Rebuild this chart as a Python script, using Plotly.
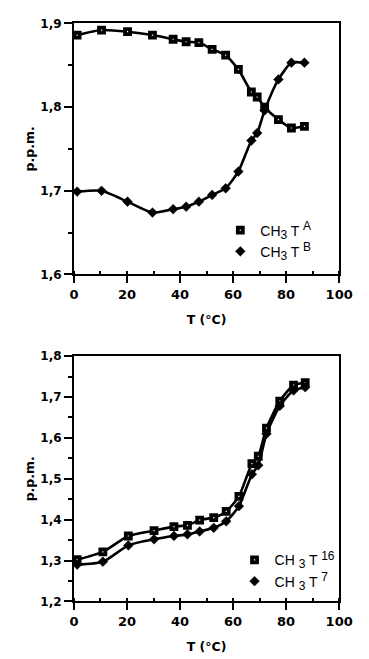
import plotly.graph_objects as go

# ---- data ----
T_top = [1.2, 10.4, 20.2, 29.6, 37.4, 42.3, 47.1, 52.1, 57.2, 62.0, 66.9, 69.1, 71.9, 77.1, 82.0, 86.9]
CH3_TA = [1.886, 1.892, 1.890, 1.886, 1.881, 1.878, 1.877, 1.869, 1.862, 1.845, 1.818, 1.812, 1.800, 1.785, 1.775, 1.777]
CH3_TB = [1.699, 1.700, 1.687, 1.674, 1.678, 1.681, 1.687, 1.695, 1.703, 1.723, 1.760, 1.769, 1.796, 1.833, 1.853, 1.853]

T_bot = [1.2, 10.9, 20.5, 30.2, 37.7, 42.8, 47.4, 52.7, 57.4, 62.2, 67.1, 69.5, 72.6, 77.6, 82.8, 87.2]
CH3_T16 = [1.302, 1.321, 1.360, 1.373, 1.383, 1.386, 1.399, 1.405, 1.420, 1.457, 1.537, 1.555, 1.624, 1.690, 1.729, 1.735]
CH3_T7 = [1.290, 1.297, 1.337, 1.352, 1.360, 1.364, 1.371, 1.380, 1.396, 1.433, 1.511, 1.533, 1.610, 1.678, 1.716, 1.724]

x_ticks = [0, 20, 40, 60, 80, 100]

W, H = 369, 659
FONT = "DejaVu Sans"
LEG_FONT = "Liberation Sans"

def px_x(p):
    return p / W

def px_y(p):
    return 1 - p / H

def sz(t):
    return '<span style="font-size:12px">' + t + '</span>'

def label(sup, gap=""):
    return "CH" + gap + "<sub>" + sz("3") + "</sub> T <sup>" + sz(sup) + "</sup>"

fig = go.Figure()

sq_marker = dict(symbol="square", size=5, color="white", line=dict(color="black", width=3.8))
di_marker = dict(symbol="diamond", size=7.5, color="black", line=dict(color="black", width=0.5))
line_style = dict(color="black", width=2.6, shape="spline", smoothing=0.6)

series = [
    (T_top, CH3_TA, sq_marker, label("A"), "x", "y", "legend"),
    (T_top, CH3_TB, di_marker, label("B"), "x", "y", "legend"),
    (T_bot, CH3_T16, sq_marker, label("16", " "), "x2", "y2", "legend2"),
    (T_bot, CH3_T7, di_marker, label("7", " "), "x2", "y2", "legend2"),
]

# connecting curves (no legend entry)
for xs, ys, mk, nm, xa, ya, lg in series:
    fig.add_trace(go.Scatter(x=xs, y=ys, mode="lines", line=line_style, xaxis=xa, yaxis=ya,
                             showlegend=False, hoverinfo="skip", cliponaxis=False))
# markers (legend entries)
for i, (xs, ys, mk, nm, xa, ya, lg) in enumerate(series):
    fig.add_trace(go.Scatter(x=xs, y=ys, mode="markers", marker=mk, name=nm, xaxis=xa, yaxis=ya,
                             legend=lg, cliponaxis=False, legendrank=i))

tickfont_x = dict(family=FONT, size=13, color="black", weight="bold")
tickfont_y = dict(family=FONT, size=12, color="black", weight="bold")
titlefont = dict(family=FONT, size=12.5, color="black", weight="bold")

def xaxis(domain, anchor):
    return dict(domain=domain, anchor=anchor, range=[0, 100], tickmode="array", tickvals=x_ticks,
                ticktext=[str(v) for v in x_ticks], ticks="outside", ticklen=7, tickwidth=2,
                tickcolor="black", showline=True, linecolor="black", linewidth=2, mirror=True,
                showgrid=False, zeroline=False, tickfont=tickfont_x,
                minor=dict(dtick=10, ticks="inside", ticklen=3, tickwidth=2, tickcolor="black", showgrid=False),
                title=dict(text="T (°C)", font=titlefont, standoff=14))

def yaxis(domain, anchor, rng):
    return dict(domain=domain, anchor=anchor, range=rng, dtick=0.1, tickformat=".1f",
                ticks="outside", ticklen=8, tickwidth=2, tickcolor="black",
                showline=True, linecolor="black", linewidth=2, mirror=True,
                showgrid=False, zeroline=False, tickfont=tickfont_y,
                minor=dict(dtick=0.05, ticks="outside", ticklen=4, tickwidth=2, tickcolor="black", showgrid=False),
                title=dict(text="p.p.m.", font=titlefont, standoff=3))

xd = [px_x(72.7), px_x(352.3)]
legfont = dict(family=LEG_FONT, size=14, color="black")
fig.update_layout(
    width=W, height=H, margin=dict(l=0, r=0, t=0, b=0),
    paper_bgcolor="white", plot_bgcolor="white", separators=",.",
    xaxis=xaxis(xd, "y"),
    yaxis=yaxis([px_y(273.3), px_y(16.7)], "x", [1.6, 1.9]),
    xaxis2=xaxis(xd, "y2"),
    yaxis2=yaxis([px_y(607.3), px_y(356.7)], "x2", [1.2, 1.8]),
    legend=dict(x=px_x(227), y=px_y(212), xanchor="left", yanchor="top",
                bgcolor="rgba(0,0,0,0)", font=legfont, tracegroupgap=0, itemwidth=30),
    legend2=dict(x=px_x(242), y=px_y(549), xanchor="left", yanchor="top",
                 bgcolor="rgba(0,0,0,0)", font=legfont, tracegroupgap=0, itemwidth=30),
    showlegend=True,
)

fig.write_html("out.html")
